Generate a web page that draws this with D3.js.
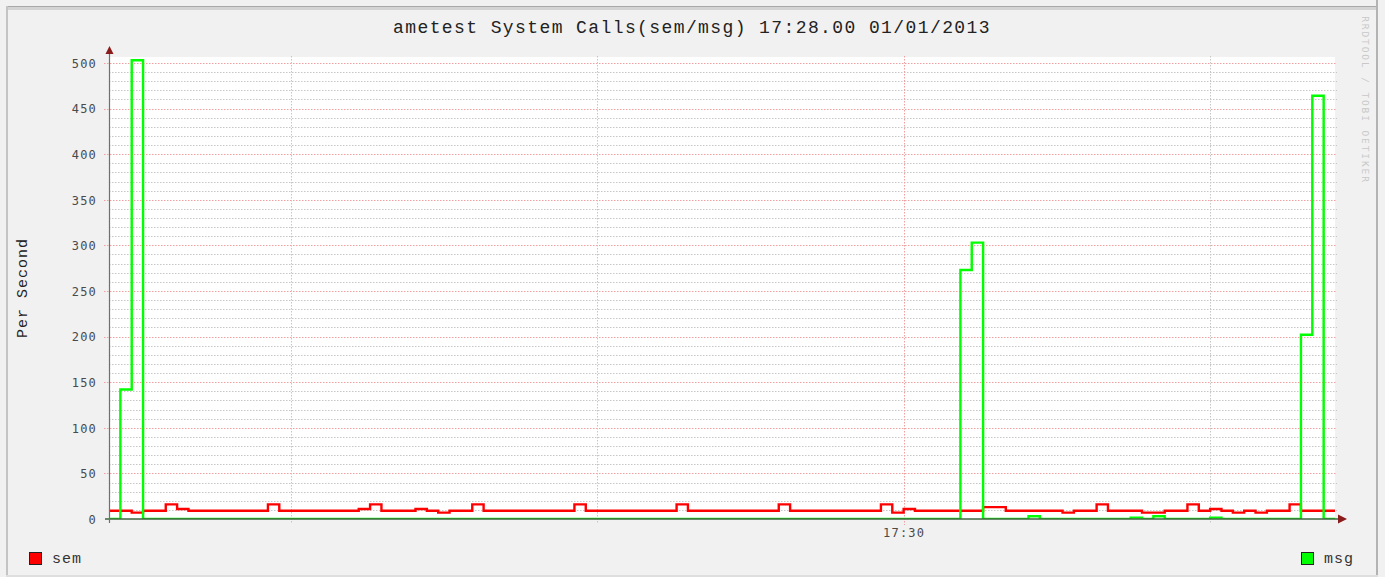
<!DOCTYPE html>
<html>
<head>
<meta charset="utf-8">
<script src="https://cdn.jsdelivr.net/npm/d3@7"></script>
<style>
  body { margin: 0; background: #f1f1f1; }
  svg { display: block; }
</style>
</head>
<body>
<div id="chart"></div>
<script>
// values per sample step
const semValues = [
  9, 9, 7, 9, 9, 16, 11, 9, 9, 9,
  9, 9, 9, 9, 16, 9, 9, 9, 9, 9,
  9, 9, 11, 16, 9, 9, 9, 11, 9, 7,
  9, 9, 16, 9, 9, 9, 9, 9, 9, 9,
  9, 16, 9, 9, 9, 9, 9, 9, 9, 9,
  16, 9, 9, 9, 9, 9, 9, 9, 9, 16,
  9, 9, 9, 9, 9, 9, 9, 9, 16, 7,
  11, 9, 9, 9, 9, 9, 9, 13, 13, 9,
  9, 9, 9, 9, 7, 9, 9, 16, 9, 9,
  9, 7, 7, 9, 9, 16, 9, 11, 9, 7,
  9, 7, 9, 9, 16, 9, 9, 9
];
const msgValues = [
  0, 142, 503, 0, 0, 0, 0, 0, 0, 0,
  0, 0, 0, 0, 0, 0, 0, 0, 0, 0,
  0, 0, 0, 0, 0, 0, 0, 0, 0, 0,
  0, 0, 0, 0, 0, 0, 0, 0, 0, 0,
  0, 0, 0, 0, 0, 0, 0, 0, 0, 0,
  0, 0, 0, 0, 0, 0, 0, 0, 0, 0,
  0, 0, 0, 0, 0, 0, 0, 0, 0, 0,
  0, 0, 0, 0, 0, 273, 303, 0, 0, 0,
  0, 3, 0, 0, 0, 0, 0, 0, 0, 0,
  1.5, 0, 3, 0, 0, 0, 0, 1.5, 0, 0,
  0, 0, 0, 0, 0, 202, 464, 0
];
const yTicks = [0, 50, 100, 150, 200, 250, 300, 350, 400, 450, 500];
const yMinorStep = 10;
// vertical grid positions, in sample steps
const xMinorGrid = [16, 43, 97];
const xMajorGrid = [70];
const xLabels = ["17:30"];

const titleText = "ametest System Calls(sem/msg) 17:28.00 01/01/2013";
const yLabel = "Per Second";
const seriesNames = ["sem", "msg"];
const seriesColors = ["#ff0000", "#00ff00"];
const watermark = "RRDTOOL / TOBI OETIKER";

const W = 1385, H = 577;
const margin = { top: 57, right: 50, bottom: 58, left: 109 },
  width = W - margin.left - margin.right,
  height = H - margin.top - margin.bottom;

const svg = d3.select("#chart")
  .append("svg")
  .attr("width", W)
  .attr("height", H);

// panel frame
svg.append("rect").attr("width", W).attr("height", H).attr("fill", "#f1f1f1");
svg.append("rect").attr("x", 7).attr("y", 6).attr("width", 1371).attr("height", 4).attr("fill", "#d4d4d4");
svg.append("line").attr("x1", 7).attr("x2", 1378).attr("y1", 6.5).attr("y2", 6.5).attr("stroke", "#a9a9a9");
svg.append("rect").attr("x", 6).attr("y", 6).attr("width", 2).attr("height", H).attr("fill", "#c4c4c4");
svg.append("rect").attr("x", 1376).attr("y", 0).attr("width", 2).attr("height", H).attr("fill", "#b3b3b3");
svg.append("rect").attr("x", 6).attr("y", 575).attr("width", 1372).attr("height", 2).attr("fill", "#dedede");

svg.append("defs").append("clipPath")
  .attr("id", "plot-clip")
  .append("rect")
  .attr("x", -1).attr("y", -4)
  .attr("width", W).attr("height", H - margin.bottom - margin.top + 4);

const g = svg.append("g")
  .attr("transform", `translate(${margin.left},${margin.top})`);

const x = d3.scaleLinear()
  .domain([0, semValues.length])
  .range([0, width]);
const y = d3.scaleLinear()
  .domain([0, 506.5])
  .range([height, 0]);

// plot background
g.append("rect")
  .attr("width", width)
  .attr("height", height)
  .attr("fill", "#ffffff");

// horizontal grid
const minorY = d3.range(0, 501, yMinorStep).filter(v => !yTicks.includes(v));
g.append("g").selectAll("line")
  .data(minorY)
  .join("line")
  .attr("x1", 0).attr("x2", width + 2)
  .attr("y1", d => Math.round(y(d)) + 0.5).attr("y2", d => Math.round(y(d)) + 0.5)
  .attr("stroke", "#c6c6c6")
  .attr("stroke-dasharray", "1.5,1.5");
g.append("g").selectAll("line")
  .data(yTicks.filter(v => v > 0))
  .join("line")
  .attr("x1", -5).attr("x2", width + 2)
  .attr("y1", d => Math.round(y(d)) + 0.5).attr("y2", d => Math.round(y(d)) + 0.5)
  .attr("stroke", "#f0a0a0")
  .attr("stroke-dasharray", "1.5,1.5");

// vertical grid
g.append("g").selectAll("line")
  .data(xMinorGrid)
  .join("line")
  .attr("x1", d => Math.round(x(d)) + 0.5).attr("x2", d => Math.round(x(d)) + 0.5)
  .attr("y1", -1).attr("y2", height + 4)
  .attr("stroke", "#c6c6c6")
  .attr("stroke-dasharray", "1.5,1.5");
g.append("g").selectAll("line")
  .data(xMajorGrid)
  .join("line")
  .attr("x1", d => Math.round(x(d)) + 0.5).attr("x2", d => Math.round(x(d)) + 0.5)
  .attr("y1", -1).attr("y2", height + 6)
  .attr("stroke", "#f0a0a0")
  .attr("stroke-dasharray", "1.5,1.5");

// step lines
const stepLine = d3.line()
  .x(d => x(d[0]))
  .y(d => y(d[1]))
  .curve(d3.curveStepAfter);
const toPoints = vals => vals.map((v, i) => [i, v]).concat([[vals.length, vals[vals.length - 1]]]);

const lines = g.append("g").attr("clip-path", "url(#plot-clip)");
[semValues, msgValues].forEach((vals, i) => {
  lines.append("path")
    .datum(toPoints(vals))
    .attr("fill", "none")
    .attr("stroke", seriesColors[i])
    .attr("stroke-width", 2.4)
    .attr("stroke-linejoin", "miter")
    .attr("d", stepLine);
});

// axes
g.append("line")
  .attr("x1", -4).attr("x2", width + 3)
  .attr("y1", height).attr("y2", height)
  .attr("stroke", "#3d653d").attr("stroke-width", 1.6);
g.append("line")
  .attr("x1", 0.5).attr("x2", 0.5)
  .attr("y1", height + 4).attr("y2", -6)
  .attr("stroke", "#707070").attr("stroke-width", 1.2);
g.append("path")
  .attr("d", `M${width + 3},${height - 4.5}L${width + 12},${height}L${width + 3},${height + 4.5}Z`)
  .attr("fill", "#8b1c1c");
g.append("path")
  .attr("d", `M-3.5,-3L0.5,-11L4.5,-3Z`)
  .attr("fill", "#8b1c1c");

const yAxis = g.append("g")
  .call(d3.axisLeft(y).tickValues(yTicks).tickSize(0).tickPadding(12));
yAxis.select(".domain").remove();
yAxis.selectAll("text")
  .attr("font-family", "DejaVu Sans Mono")
  .attr("font-size", 12)
  .attr("letter-spacing", 1.2)
  .attr("fill", "#4a4a4a")
  .attr("dy", "0.36em");

const xAxis = g.append("g")
  .attr("transform", `translate(0,${height})`)
  .call(d3.axisBottom(x).tickValues(xMajorGrid).tickFormat((d, i) => xLabels[i]).tickSize(0).tickPadding(9));
xAxis.select(".domain").remove();
xAxis.selectAll("text")
  .attr("font-family", "DejaVu Sans Mono")
  .attr("font-size", 12)
  .attr("letter-spacing", 1.2)
  .attr("fill", "#4a4a4a");

// title and labels
svg.append("text")
  .attr("x", 692).attr("y", 33)
  .attr("text-anchor", "middle")
  .attr("font-family", "Liberation Mono")
  .attr("font-size", 18)
  .attr("letter-spacing", 1.4)
  .attr("fill", "#222")
  .text(titleText);

svg.append("text")
  .attr("transform", "translate(27,288) rotate(-90)")
  .attr("text-anchor", "middle")
  .attr("font-family", "Liberation Mono")
  .attr("font-size", 15)
  .attr("letter-spacing", 1)
  .attr("fill", "#222")
  .text(yLabel);

svg.append("text")
  .attr("transform", "translate(1362,100) rotate(90)")
  .attr("text-anchor", "middle")
  .attr("font-family", "DejaVu Sans Mono")
  .attr("font-size", 9.5)
  .attr("letter-spacing", 1.9)
  .attr("fill", "#c8c8c8")
  .text(watermark);

// legend
const legendPos = [29, 1301];
seriesNames.forEach((name, i) => {
  const lg = svg.append("g").attr("transform", `translate(${legendPos[i]},552)`);
  lg.append("rect")
    .attr("x", 0.5).attr("y", 0.5)
    .attr("width", 12).attr("height", 12)
    .attr("fill", seriesColors[i])
    .attr("stroke", "#222");
  lg.append("text")
    .attr("x", 23).attr("y", 10.5)
    .attr("font-family", "Liberation Mono")
    .attr("font-size", 15)
    .attr("letter-spacing", 1)
    .attr("fill", "#333")
    .text(name);
});
</script>
</body>
</html>
